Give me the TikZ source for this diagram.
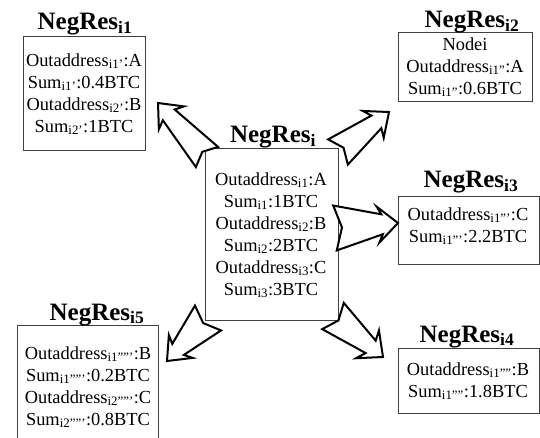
\documentclass[tikz,border=0pt]{standalone}
\usepackage{fontspec}
\setmainfont{Liberation Serif}
\usetikzlibrary{calc}
\tikzset{
 box/.style={draw=black!75, line width=0.9pt, inner sep=0pt, outer sep=0pt},
 txt/.style={align=center, font=\fontsize{18.4}{22}\selectfont, inner sep=0pt},
 ttl/.style={font=\fontsize{25}{28}\selectfont\bfseries, anchor=base, inner sep=0pt},
 blk/.style={draw=black, fill=white, line width=2pt, line join=miter},
}
\newcommand\blockarr[6]{%
 \path let \p1=(#1), \p2=(#2) in \pgfextra{%
   \pgfmathsetmacro\myang{atan2(\y2-\y1,\x2-\x1)}%
   \pgfmathsetmacro\mylen{veclen(\x2-\x1,\y2-\y1)}%
   \xdef\gang{\myang}\xdef\glen{\mylen}};
 \begin{scope}[shift={(#1)},rotate=\gang]
 \draw[blk] (0,#3/2) -- ({\glen-16},#4/2) -- ({\glen-20},#5/2) -- (\glen,0) -- ({\glen-20},-#5/2) -- ({\glen-16},-#4/2) -- (0,-#3/2) -- (#6,0) -- cycle;
 \end{scope}}
\begin{document}
\begin{tikzpicture}[x=1pt,y=-1pt]
\useasboundingbox (0,0) rectangle (540,438);
\clip (0,0) rectangle (540,438);
% boxes
\node[box, minimum width=122pt, minimum height=114pt] (b1) at (84,93) {};
\node[box, minimum width=134pt, minimum height=69pt] (b2) at (465,66.5) {};
\node[box, minimum width=133pt, minimum height=172pt] (b0) at (271.5,234) {};
\node[box, minimum width=141pt, minimum height=68pt] (b3) at (468.5,230) {};
\node[box, minimum width=141pt, minimum height=65pt] (b4) at (468.5,380.5) {};
\node[box, minimum width=141pt, minimum height=125pt] (b5) at (87.5,387.5) {};
% titles
\node[ttl] (h1) at (85,30) {NegRes\textsubscript{i1}};
\node[ttl] (h2) at (472,28) {NegRes\textsubscript{i2}};
\node[ttl] (h0) at (273,143) {NegRes\textsubscript{i}};
\node[ttl] (h3) at (471,188) {NegRes\textsubscript{i3}};
\node[ttl] (h4) at (467,342) {NegRes\textsubscript{i4}};
\node[ttl] (h5) at (97,320) {NegRes\textsubscript{i5}};
% texts
\node[txt] (t1) at (84,94) {Outaddress\textsubscript{i1'}:A\\Sum\textsubscript{i1'}:0.4BTC\\Outaddress\textsubscript{i2'}:B\\Sum\textsubscript{i2'}:1BTC};
\node[txt] (t2) at (465,67) {Nodei\\Outaddress\textsubscript{i1''}:A\\Sum\textsubscript{i1''}:0.6BTC};
\node[txt] (t0) at (271,235) {Outaddress\textsubscript{i1}:A\\Sum\textsubscript{i1}:1BTC\\Outaddress\textsubscript{i2}:B\\Sum\textsubscript{i2}:2BTC\\Outaddress\textsubscript{i3}:C\\Sum\textsubscript{i3}:3BTC};
\node[txt] (t3) at (468,226) {Outaddress\textsubscript{i1'''}:C\\Sum\textsubscript{i1'''}:2.2BTC};
\node[txt] (t4) at (468,381) {Outaddress\textsubscript{i1''''}:B\\Sum\textsubscript{i1''''}:1.8BTC};
\node[txt] (t5) at (88,387) {Outaddress\textsubscript{i1'''''}:B\\Sum\textsubscript{i1'''''}:0.2BTC\\Outaddress\textsubscript{i2'''''}:C\\Sum\textsubscript{i2'''''}:0.8BTC};
% arrows
\coordinate (a1s) at (207,157); \coordinate (a1e) at (158,103);
\coordinate (a2s) at (338,152); \coordinate (a2e) at (389,112);
\coordinate (a3s) at (335,228); \coordinate (a3e) at (398,223);
\coordinate (a4s) at (333,316); \coordinate (a4e) at (383,357);
\coordinate (a5s) at (208,318); \coordinate (a5e) at (167,361);
\blockarr{a1s}{a1e}{30}{16}{34}{7}
\blockarr{a2s}{a2e}{32}{16}{34}{7}
\blockarr{a3s}{a3e}{45}{20}{36}{7}
\blockarr{a4s}{a4e}{34}{16}{36}{7}
\blockarr{a5s}{a5e}{36}{16}{33}{7}
\end{tikzpicture}
\end{document}
